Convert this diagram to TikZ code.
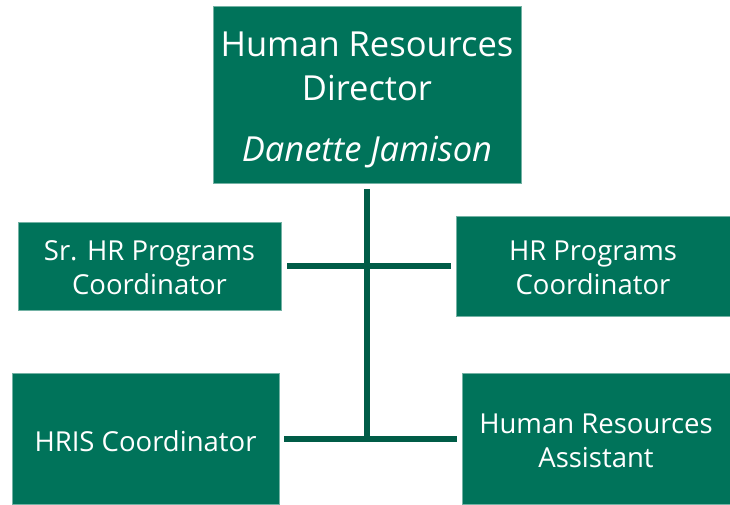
\documentclass[tikz,border=0pt]{standalone}
\usepackage{fontspec}
\setmainfont{Open Sans}
\definecolor{boxgreen}{HTML}{00735A}
\definecolor{linegreen}{HTML}{005C47}
\begin{document}
\begin{tikzpicture}[x=1pt,y=-1pt,
  box/.style={fill=boxgreen, draw=boxgreen!55!white, line width=0.6pt, inner sep=0pt, anchor=center},
  label/.style={text=white, align=center, inner sep=0pt, anchor=center},
  small/.style={font=\fontsize{27.5}{34}\selectfont},
  conn/.style={draw=linegreen, line width=6pt}]
\useasboundingbox (0,0) rectangle (730,504);
% boxes
\node[box, minimum width=308pt, minimum height=177pt] (top) at (367,94.5) {};
\node[box, minimum width=263pt, minimum height=88pt] (midL) at (149.5,266.5) {};
\node[box, minimum width=274pt, minimum height=100pt] (midR) at (593,266) {};
\node[box, minimum width=267pt, minimum height=131pt] (botL) at (145.5,438.5) {};
\node[box, minimum width=268pt, minimum height=131pt] (botR) at (596,438.5) {};
% texts
\node[label, font=\fontsize{34.5}{44}\selectfont] (topT) at ([yshift=-5pt]top.center)
  {Human Resources\\Director\\[17pt]\itshape Danette Jamison};
\node[label, small] (midLT) at ([yshift=-1pt]midL.center) {Sr. HR Programs\\Coordinator};
\node[label, small] (midRT) at ([yshift=-1.5pt]midR.center) {HR Programs\\Coordinator};
\node[label, small] (botLT) at ([yshift=-3pt]botL.center) {HRIS Coordinator};
\node[label, small] (botRT) at ([yshift=-2pt]botR.center) {Human Resources\\Assistant};
% connectors
\coordinate (j1) at (367,266);
\coordinate (j2) at (367,439);
\draw[conn] ([yshift=-6pt]top.south) -- ([yshift=-3pt]j2);
\draw[conn, shorten <=6pt, shorten >=5pt] (midL.east |- j1) -- (midR.west |- j1);
\draw[conn, shorten <=5pt, shorten >=5pt] (botL.east |- j2) -- (botR.west |- j2);
\end{tikzpicture}
\end{document}
